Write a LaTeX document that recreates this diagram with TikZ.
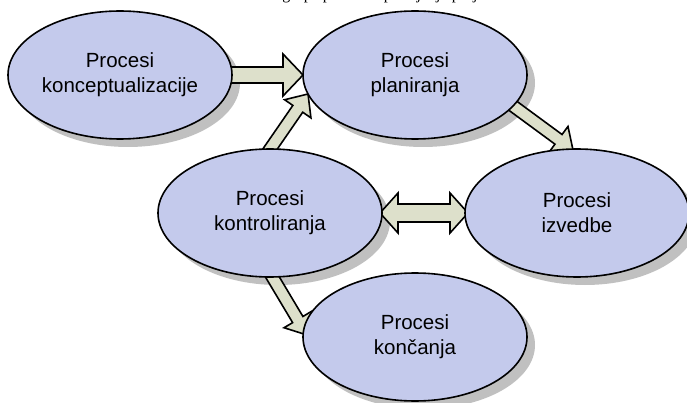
\documentclass[tikz,border=0pt]{standalone}
\usepackage{fontspec}
\setmainfont{Liberation Sans}
\newfontfamily\captionserif{Liberation Serif}
\usetikzlibrary{calc,shapes.geometric}

\definecolor{procfill}{RGB}{196,202,236}
\definecolor{arrowfill}{RGB}{221,224,203}
\definecolor{shadowgray}{RGB}{192,192,192}

\pgfdeclarelayer{shadowlayer}
\pgfdeclarelayer{arrowlayer}
\pgfsetlayers{shadowlayer,arrowlayer,main}

\tikzset{
  process/.style={ellipse, draw=black, line width=1.6pt, fill=procfill,
    minimum width=224pt, minimum height=128pt, inner sep=0pt,
    align=center, font=\fontsize{20.5}{25}\selectfont},
  procshadow/.style={fill=shadowgray},
  arrowbody/.style={fill=arrowfill, draw=black, line width=1.6pt, line join=miter},
  captionline/.style={anchor=base, inner sep=0pt, outer sep=0pt},
}

% single block arrow: from, to, shaft half width, head half width, head length
\newcommand{\blockarrow}[5]{%
  \coordinate (hb) at ($(#2)!#5!(#1)$);
  \filldraw[arrowbody]
    ($(#1)!#3!90:(#2)$) -- ($(hb)!#3!90:(#2)$) -- ($(hb)!#4!90:(#2)$) --
    (#2) -- ($(hb)!#4!-90:(#2)$) -- ($(hb)!#3!-90:(#2)$) --
    ($(#1)!#3!-90:(#2)$) -- cycle;
}
% double-headed block arrow with the same parameters
\newcommand{\dblockarrow}[5]{%
  \coordinate (hba) at ($(#1)!#5!(#2)$);
  \coordinate (hbb) at ($(#2)!#5!(#1)$);
  \filldraw[arrowbody]
    (#1) -- ($(hba)!#4!90:(#2)$) -- ($(hba)!#3!90:(#2)$) --
    ($(hbb)!#3!90:(#2)$) -- ($(hbb)!#4!90:(#2)$) -- (#2) --
    ($(hbb)!#4!-90:(#2)$) -- ($(hbb)!#3!-90:(#2)$) --
    ($(hba)!#3!-90:(#2)$) -- ($(hba)!#4!-90:(#2)$) -- cycle;
}

\begin{document}
\begin{tikzpicture}[x=1pt,y=-1pt]
\useasboundingbox (0,0) rectangle (687,403);

% caption line above the figure: only its descenders reach into the page
\node[captionline] (caption) at (350,-0.5)
  {\captionserif\fontsize{16}{19}\selectfont Slika 1. Odnos grupa procesa upravljanja projektom};

% process groups
\node[process] (konc)  at (120,75)  {Procesi\\konceptualizacije};
\node[process] (plan)  at (415,75)  {Procesi\\planiranja};
\node[process] (kontr) at (270,213) {Procesi\\kontroliranja};
\node[process] (izv)   at (577,213) {Procesi\\izvedbe};
\node[process] (zavr)  at (415,337) {Procesi\\končanja};

% drop shadows
\begin{pgfonlayer}{shadowlayer}
  \foreach \n in {konc,plan,kontr,izv,zavr}
    \fill[procshadow] ($(\n.center)+(8,8)$) ellipse [x radius=112pt, y radius=64pt];
\end{pgfonlayer}

% connector end points
\coordinate (a1s) at ($(konc.center)+(108,0)$);
\coordinate (a1t) at ($(plan.center)+(-112,0)$);
\coordinate (a2s) at ($(kontr.center)+(-2,-61)$);
\coordinate (a2t) at ($(plan.center)+(-107,19)$);
\coordinate (a3s) at ($(plan.center)+(90,25)$);
\coordinate (a3t) at ($(izv.center)+(-4,-63)$);
\coordinate (a4s) at ($(kontr.center)+(110,0)$);
\coordinate (a4t) at ($(izv.center)+(-109,0)$);
\coordinate (a5s) at ($(kontr.center)+(0,60)$);
\coordinate (a5t) at ($(zavr.center)+(-108,-2)$);

% block arrows
\begin{pgfonlayer}{arrowlayer}
  \blockarrow{a1s}{a1t}{8pt}{21pt}{20pt}
  \blockarrow{a2s}{a2t}{6pt}{16pt}{18pt}
  \blockarrow{a3s}{a3t}{6pt}{16pt}{18pt}
  \dblockarrow{a4s}{a4t}{9pt}{20pt}{18pt}
  \blockarrow{a5s}{a5t}{6pt}{16pt}{18pt}
\end{pgfonlayer}
\end{tikzpicture}
\end{document}
